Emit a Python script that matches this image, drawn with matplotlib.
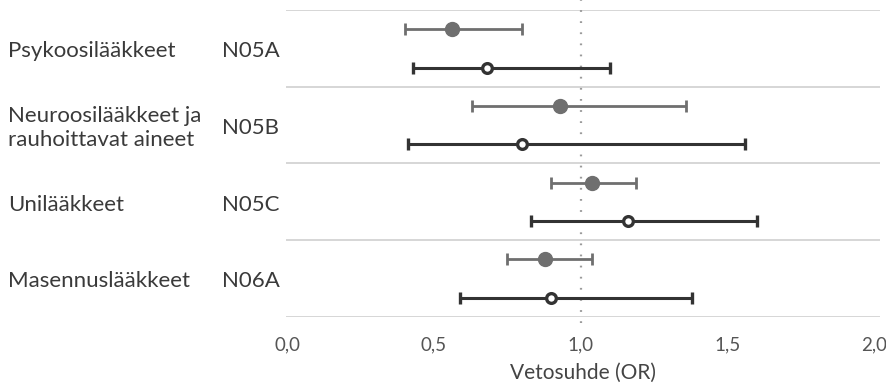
import matplotlib
matplotlib.use("Agg")
import matplotlib.pyplot as plt
from matplotlib.ticker import FuncFormatter

# categories and ATC codes
names = ["Psykoosilääkkeet", "Neuroosilääkkeet ja\nrauhoittavat aineet", "Unilääkkeet", "Masennuslääkkeet"]
codes = ["N05A", "N05B", "N05C", "N06A"]

# gray (filled) series: estimate, lower, upper
gray_or = [0.56, 0.93, 1.04, 0.88]
gray_lo = [0.40, 0.63, 0.90, 0.75]
gray_hi = [0.80, 1.36, 1.19, 1.04]

# dark (open) series
dark_or = [0.68, 0.80, 1.16, 0.90]
dark_lo = [0.43, 0.41, 0.83, 0.59]
dark_hi = [1.10, 1.56, 1.60, 1.38]

xticks = [0.0, 0.5, 1.0, 1.5, 2.0]

plt.rcParams['font.family'] = ['Lato', 'DejaVu Sans']

fig = plt.figure(figsize=(8.86, 3.85), dpi=100)
ax = fig.add_axes([286 / 886, 0.177, 594 / 886, 0.797])

n = len(names)
ax.set_xlim(-0.004, 2.02)
ax.set_ylim(n, 0)

# group separators
for i in range(n + 1):
    ax.axhline(i, color="#cfcfcf", lw=1.2, zorder=1)

# reference line at OR = 1, running a bit past the top and bottom lines
ax.plot([1.0, 1.0], [-0.14, n + 0.15], color="#9a9a9a", lw=1.6,
        ls=(0, (0.8, 4.2)), zorder=2, clip_on=False)

for i in range(n):
    yg = i + 0.25
    yd = i + 0.75
    ax.errorbar(gray_or[i], yg,
                xerr=[[gray_or[i] - gray_lo[i]], [gray_hi[i] - gray_or[i]]],
                fmt="o", color="#6f6f6f", ecolor="#6f6f6f", elinewidth=2,
                capsize=4, capthick=2, ms=10, zorder=3)
    ax.errorbar(dark_or[i], yd,
                xerr=[[dark_or[i] - dark_lo[i]], [dark_hi[i] - dark_or[i]]],
                fmt="o", color="#333333", ecolor="#333333", elinewidth=2.2,
                capsize=4, capthick=2.2, ms=7, mfc="white", mec="#333333",
                mew=2.4, zorder=4)
    # row labels, placed in figure pixels from the left edge
    ax.annotate(names[i], xy=(0, i + 0.5), xycoords=("figure fraction", "data"),
                xytext=(8, -3), textcoords="offset pixels",
                ha="left", va="center", fontsize=16, color="#3a3a3a",
                linespacing=1.25)
    ax.annotate(codes[i], xy=(0, i + 0.5), xycoords=("figure fraction", "data"),
                xytext=(222, -3), textcoords="offset pixels",
                ha="left", va="center", fontsize=16, color="#3a3a3a")

for s in ax.spines.values():
    s.set_visible(False)
ax.set_yticks([])
ax.set_xticks(xticks)
ax.xaxis.set_major_formatter(FuncFormatter(lambda v, p: f"{v:.1f}".replace(".", ",")))
ax.tick_params(axis="x", length=0, pad=14, labelsize=13.5, labelcolor="#555555")
ax.set_xlabel("Vetosuhde (OR)", fontsize=15, color="#444444", labelpad=7)

fig.savefig("out.png", dpi=100)
